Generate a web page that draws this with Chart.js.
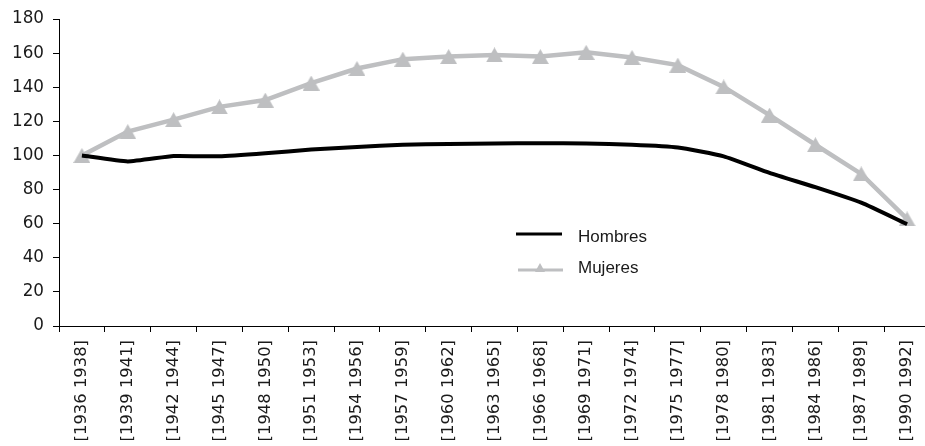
<!DOCTYPE html>
<html>
<head>
<meta charset="utf-8">
<script src="https://cdn.jsdelivr.net/npm/chart.js@4/dist/chart.umd.min.js"></script>
<style>
  html, body { margin: 0; padding: 0; background: #fff; overflow: hidden; }
  #wrap { width: 940px; height: 446px; }
</style>
</head>
<body>
<div id="wrap"><canvas id="c" width="940" height="446" style="width:940px;height:446px"></canvas></div>
<script>
const categories = [
  "[1936 1938]", "[1939 1941]", "[1942 1944]", "[1945 1947]", "[1948 1950]",
  "[1951 1953]", "[1954 1956]", "[1957 1959]", "[1960 1962]", "[1963 1965]",
  "[1966 1968]", "[1969 1971]", "[1972 1974]", "[1975 1977]", "[1978 1980]",
  "[1981 1983]", "[1984 1986]", "[1987 1989]", "[1990 1992]"
];
const hombres = [100, 96.5, 99.7, 99.5, 101.3, 103.5, 105, 106.3, 106.8, 107, 107.2, 107, 106.3, 104.7, 99.5, 89.8, 81.4, 72.3, 59.7];
const mujeres = [100, 114, 121, 128.5, 132.5, 142.5, 151, 156.5, 158, 159, 158, 160.5, 157.5, 153, 140.2, 123.7, 106.3, 89.2, 62.8];
const yTicks = { min: 0, max: 180, step: 20 };

const TXT = '#1a1a1a';
const GREY = '#bebfc1';
const TICK_FONT = '"DejaVu Sans", Verdana, sans-serif';

// triangle marker centred on its bounding box
const tri = document.createElement('canvas');
tri.width = 17; tri.height = 15;
(function () {
  const g = tri.getContext('2d');
  g.fillStyle = GREY;
  g.beginPath();
  g.moveTo(8.5, 0); g.lineTo(17, 15); g.lineTo(0, 15);
  g.closePath(); g.fill();
})();

const legendPlugin = {
  id: 'insideLegend',
  afterDraw(chart) {
    const ctx = chart.ctx;
    const a = chart.chartArea;
    const x0 = a.left + 457;
    ctx.save();
    ctx.lineCap = 'butt';
    ctx.strokeStyle = '#000';
    ctx.lineWidth = 3;
    ctx.beginPath(); ctx.moveTo(x0, 234); ctx.lineTo(x0 + 46, 234); ctx.stroke();
    ctx.strokeStyle = GREY;
    ctx.lineWidth = 3;
    ctx.beginPath(); ctx.moveTo(x0 + 2, 270); ctx.lineTo(x0 + 47, 270); ctx.stroke();
    ctx.fillStyle = GREY;
    const tx = x0 + 24, ty = 268, r = 5;
    ctx.beginPath();
    ctx.moveTo(tx, ty - r);
    ctx.lineTo(tx + r, ty + r * 0.8);
    ctx.lineTo(tx - r, ty + r * 0.8);
    ctx.closePath(); ctx.fill();
    ctx.fillStyle = TXT;
    ctx.font = '17px "Liberation Sans", Arial, sans-serif';
    ctx.textBaseline = 'middle';
    ctx.textAlign = 'left';
    ctx.fillText('Hombres', x0 + 62, 237);
    ctx.fillText('Mujeres', x0 + 62, 268);
    ctx.restore();
  }
};

new Chart(document.getElementById('c'), {
  type: 'line',
  data: {
    labels: categories,
    datasets: [
      {
        label: 'Hombres',
        data: hombres,
        borderColor: '#000',
        backgroundColor: '#000',
        borderWidth: 4,
        pointRadius: 0,
        tension: 0.15,
        order: 0
      },
      {
        label: 'Mujeres',
        data: mujeres,
        borderColor: GREY,
        backgroundColor: GREY,
        borderWidth: 4.5,
        pointStyle: tri,
        pointRadius: 9,
        pointBorderWidth: 0,
        pointBackgroundColor: GREY,
        tension: 0,
        order: 1
      }
    ]
  },
  options: {
    responsive: false,
    animation: false,
    events: [],
    layout: { padding: { top: 17, left: 0, right: 10, bottom: 0 } },
    plugins: { legend: { display: false }, tooltip: { enabled: false } },
    scales: {
      x: {
        type: 'category',
        offset: true,
        border: { display: true, color: '#000', width: 1 },
        grid: { display: true, offset: true, drawOnChartArea: false, drawTicks: true, tickLength: 6, color: '#000', lineWidth: 1 },
        ticks: {
          autoSkip: false,
          minRotation: 90,
          maxRotation: 90,
          padding: 8,
          color: TXT,
          font: { family: TICK_FONT, size: 16.4 }
        },
        afterFit(s) { s.height = 120; }
      },
      y: {
        min: yTicks.min,
        max: yTicks.max,
        border: { display: true, color: '#000', width: 1 },
        grid: { display: true, drawOnChartArea: false, drawTicks: true, tickLength: 6, color: '#000', lineWidth: 1 },
        ticks: {
          stepSize: yTicks.step,
          padding: 9,
          color: TXT,
          font: { family: TICK_FONT, size: 16.8 }
        },
        afterFit(s) { s.width = 59; }
      }
    }
  },
  plugins: [legendPlugin]
});
</script>
</body>
</html>
